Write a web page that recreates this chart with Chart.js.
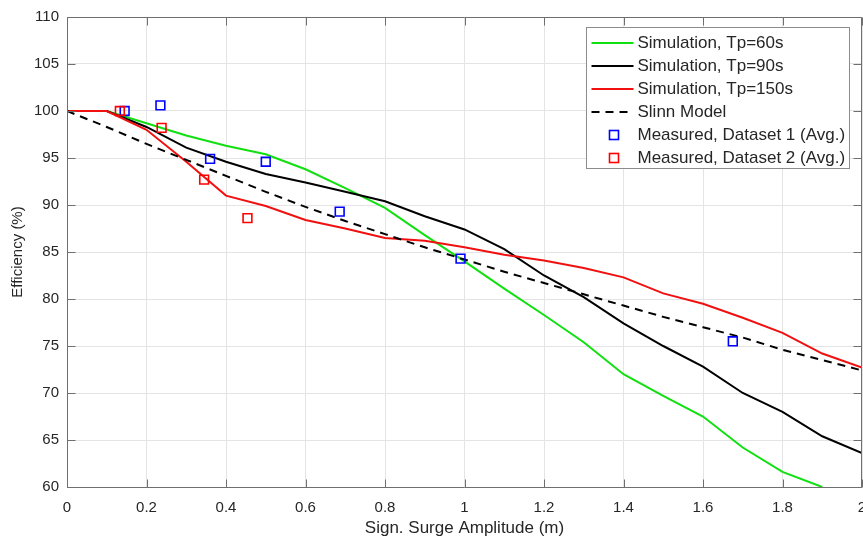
<!DOCTYPE html>
<html>
<head>
<meta charset="utf-8">
<title>Efficiency vs. surge amplitude</title>
<script src="https://cdn.jsdelivr.net/npm/chart.js@4.4.1/dist/chart.umd.min.js"></script>
<style>
    html, body { margin: 0; padding: 0; background: #fff; }
    canvas { display: block; }
</style>
</head>
<body>
<canvas id="graficoEficiencia" width="863" height="539"></canvas>
<script>
// significant surge amplitude (m) for the simulated curves
const surge = [0, 0.1, 0.2, 0.3, 0.4, 0.5, 0.6, 0.7, 0.8, 0.9, 1.0,
               1.1, 1.2, 1.3, 1.4, 1.5, 1.6, 1.7, 1.8, 1.9, 2.0];

// efficiency (%), simulations per peak period
const effTp60  = [100, 100, 98.7, 97.4, 96.3, 95.4, 93.8, 91.8, 89.7, 86.8, 84.0,
                  81.1, 78.3, 75.4, 72.0, 69.7, 67.5, 64.2, 61.6, 60.0];
const effTp90  = [100, 100, 98.3, 96.1, 94.6, 93.3, 92.4, 91.4, 90.4, 88.8, 87.4,
                  85.3, 82.5, 80.2, 77.4, 75.0, 72.8, 70.0, 68.0, 65.4, 63.6];
const effTp150 = [100, 100, 98.0, 94.6, 91.0, 89.9, 88.4, 87.5, 86.5, 86.2, 85.5,
                  84.7, 84.1, 83.3, 82.3, 80.6, 79.5, 78.0, 76.4, 74.2, 72.7];
const effSlinn = [100, 98.3, 96.5, 94.8, 93.1, 91.4, 89.8, 88.3, 86.9, 85.5, 84.2,
                  82.9, 81.7, 80.5, 79.3, 78.1, 77.0, 75.9, 74.6, 73.5, 72.4];

// measured averages
const ds1Amp = [0.145, 0.235, 0.36, 0.50, 0.686, 0.99, 1.675];
const ds1Eff = [100.0, 100.6, 94.9, 94.6, 89.3, 84.3, 75.5];
const ds2Amp = [0.133, 0.238, 0.345, 0.454];
const ds2Eff = [100.0, 98.2, 92.7, 88.6];

// axis ticks
const xTicks = [0, 0.2, 0.4, 0.6, 0.8, 1, 1.2, 1.4, 1.6, 1.8, 2];
const xTickLabels = ['0', '0.2', '0.4', '0.6', '0.8', '1', '1.2', '1.4', '1.6', '1.8', '2'];
const yTicks = [60, 65, 70, 75, 80, 85, 90, 95, 100, 105, 110];
const yTickLabels = ['60', '65', '70', '75', '80', '85', '90', '95', '100', '105', '110'];

const FONT = "'Liberation Sans', Arial, Helvetica, sans-serif";
const TXT = '#262626';

function pares(xs, ys) {
    return ys.map((y, i) => ({ x: xs[i], y: y }));
}

// let the plot run to the right edge; the last x label may overflow
const areaTotal = {
    id: 'areaTotal',
    afterLayout(chart) {
        const a = chart.chartArea, x = chart.scales.x;
        a.right = chart.width - 1;
        a.width = a.right - a.left;
        x.right = a.right;
        x.width = x.right - x.left;
        x.configure();
    }
};

// box around the axes with inward tick marks (top/bottom/left/right)
const moldura = {
    id: 'moldura',
    afterDatasetsDraw(chart) {
        const { ctx, chartArea: a, scales } = chart;
        const L = Math.round(a.left) + 0.5, R = Math.round(a.right) - 0.5;
        const T = Math.round(a.top) + 0.5, B = Math.round(a.bottom) + 0.5;
        ctx.save();
        ctx.strokeStyle = '#6f6f6f';
        ctx.lineWidth = 1;
        ctx.beginPath();
        ctx.rect(L, T, R - L, B - T);
        scales.x.ticks.forEach(t => {
            const px = Math.round(scales.x.getPixelForValue(t.value)) + 0.5;
            ctx.moveTo(px, B); ctx.lineTo(px, B - 8);
            ctx.moveTo(px, T); ctx.lineTo(px, T + 8);
        });
        scales.y.ticks.forEach(t => {
            const py = Math.round(scales.y.getPixelForValue(t.value)) + 0.5;
            ctx.moveTo(L, py); ctx.lineTo(L + 8, py);
            ctx.moveTo(R, py); ctx.lineTo(R - 8, py);
        });
        ctx.stroke();
        ctx.restore();
    }
};

// legend drawn inside the plot, upper right
const legenda = {
    id: 'legenda',
    afterDraw(chart) {
        const { ctx, chartArea: a } = chart;
        const w = 263, h = 141;
        const x0 = Math.round(a.right - 13 - w) + 0.5, y0 = Math.round(a.top + 10) + 0.5;
        ctx.save();
        ctx.fillStyle = '#fff';
        ctx.fillRect(x0, y0, w, h);
        ctx.strokeStyle = '#8c8c8c';
        ctx.lineWidth = 1;
        ctx.strokeRect(x0, y0, w, h);
        ctx.font = '17px ' + FONT;
        ctx.textBaseline = 'middle';
        chart.data.datasets.forEach((ds, i) => {
            const cy = y0 + 15.5 + i * 23;
            if (ds.showLine) {
                ctx.strokeStyle = ds.borderColor;
                ctx.lineWidth = ds.borderWidth;
                ctx.setLineDash(ds.borderDash || []);
                ctx.beginPath();
                ctx.moveTo(x0 + 5, cy);
                ctx.lineTo(x0 + 47, cy);
                ctx.stroke();
                ctx.setLineDash([]);
            } else {
                ctx.strokeStyle = ds.borderColor;
                ctx.lineWidth = ds.borderWidth;
                ctx.strokeRect(x0 + 23, cy - 4.5, 9, 9);
            }
            ctx.fillStyle = TXT;
            ctx.fillText(ds.label, x0 + 51, cy);
        });
        ctx.restore();
    }
};

const linha = (label, ys, cor, ordem, dash) => ({
    label: label,
    data: pares(surge, ys),
    showLine: true,
    borderColor: cor,
    borderWidth: 2,
    borderDash: dash || [],
    pointRadius: 0,
    tension: 0,
    fill: false,
    order: ordem
});

const marcas = (label, xs, ys, cor, ordem) => ({
    label: label,
    data: pares(xs, ys),
    showLine: false,
    pointStyle: 'rect',
    pointRadius: 6.2,
    pointBorderWidth: 1.6,
    borderColor: cor,
    borderWidth: 1.6,
    pointBackgroundColor: 'rgba(0,0,0,0)',
    backgroundColor: 'rgba(0,0,0,0)',
    order: ordem
});

new Chart(document.getElementById('graficoEficiencia').getContext('2d'), {
    type: 'scatter',
    data: {
        datasets: [
            linha('Simulation, Tp=60s', effTp60, '#10e010', 6),
            linha('Simulation, Tp=90s', effTp90, '#000000', 5),
            linha('Simulation, Tp=150s', effTp150, '#f01010', 4),
            linha('Slinn Model', effSlinn, '#000000', 3, [8, 6]),
            marcas('Measured, Dataset 1 (Avg.)', ds1Amp, ds1Eff, '#0000ff', 2),
            marcas('Measured, Dataset 2 (Avg.)', ds2Amp, ds2Eff, '#ff0000', 1)
        ]
    },
    options: {
        responsive: false,
        animation: false,
        devicePixelRatio: 1,
        layout: {
            autoPadding: false,
            padding: { top: 16, right: 1, left: 0, bottom: 0 }
        },
        plugins: {
            legend: { display: false },
            tooltip: { enabled: false }
        },
        scales: {
            x: {
                type: 'linear',
                min: 0,
                max: 2,
                afterFit: s => { s.height = 52; },
                afterBuildTicks: s => { s.ticks = xTicks.map(v => ({ value: v })); },
                grid: { color: '#e4e4e4', drawTicks: false },
                border: { display: false },
                ticks: {
                    padding: 12,
                    maxRotation: 0,
                    color: TXT,
                    font: { family: FONT, size: 15 },
                    callback: (v, i) => xTickLabels[i]
                },
                title: {
                    display: true,
                    text: 'Sign. Surge Amplitude (m)',
                    color: TXT,
                    font: { family: FONT, size: 17 },
                    padding: { top: 0, bottom: 0 }
                }
            },
            y: {
                type: 'linear',
                min: 60,
                max: 110,
                afterFit: s => { s.width = 67; },
                afterBuildTicks: s => { s.ticks = yTicks.map(v => ({ value: v })); },
                grid: { color: '#e4e4e4', drawTicks: false },
                border: { display: false },
                ticks: {
                    padding: 8,
                    color: TXT,
                    font: { family: FONT, size: 15 },
                    callback: (v, i) => yTickLabels[i]
                },
                title: {
                    display: true,
                    text: 'Efficiency (%)',
                    color: TXT,
                    font: { family: FONT, size: 15 },
                    padding: { top: 9, bottom: 0 }
                }
            }
        }
    },
    plugins: [areaTotal, moldura, legenda]
});
</script>
</body>
</html>
